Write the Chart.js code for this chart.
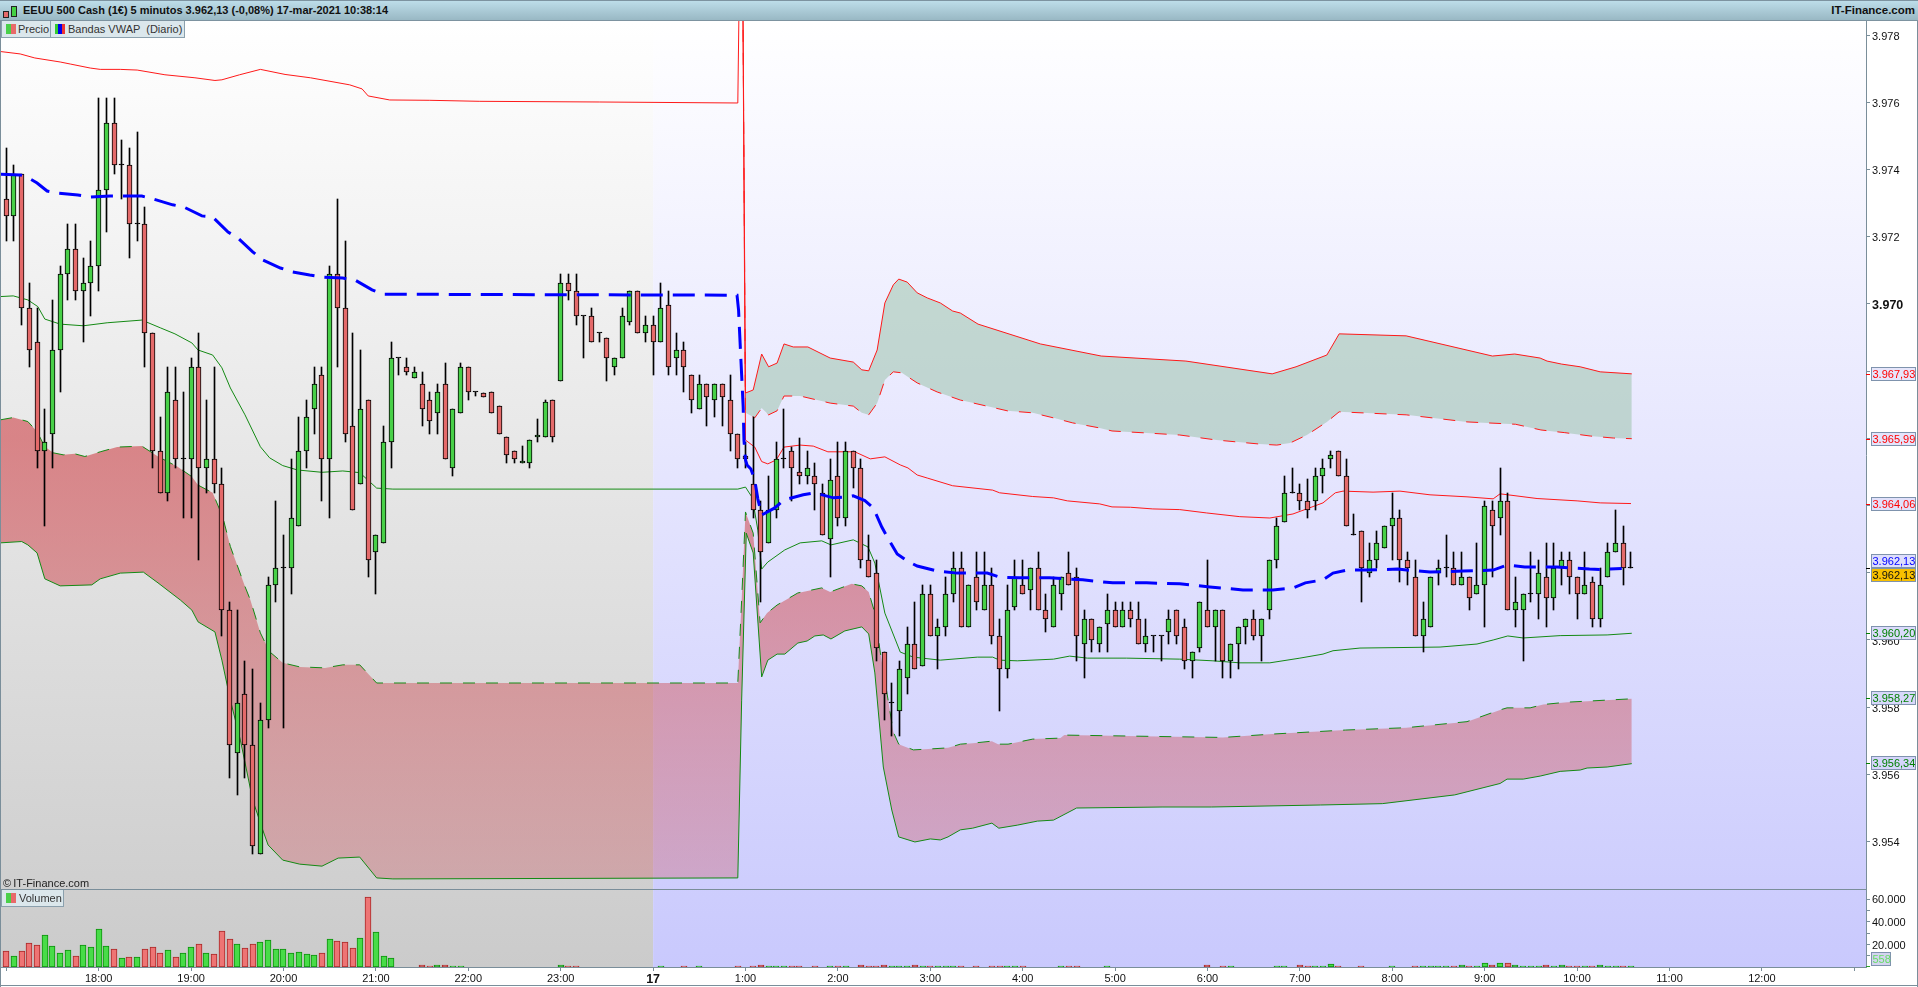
<!DOCTYPE html>
<html lang="es">
<head>
<meta charset="utf-8">
<title>EEUU 500 Cash</title>
<script src="https://cdn.jsdelivr.net/npm/chart.js@4/dist/chart.umd.min.js"></script>
<style>
html,body{margin:0;padding:0;background:#fff;width:1918px;height:987px;overflow:hidden;font-family:"Liberation Sans",Arial,sans-serif;}
canvas{position:absolute;left:0;top:0;}
#hdr{position:absolute;left:0;top:0;width:1918px;height:21px;box-sizing:border-box;border-top:1px solid #7d93a0;border-bottom:1px solid #7d93a0;background:linear-gradient(#bddde9,#99b8c4);font-size:11px;font-weight:bold;color:#111;line-height:19px;white-space:pre;}
#hdr .l{position:absolute;left:23px;top:0;}
#hdr .r{position:absolute;right:3px;top:0;font-size:11.5px;}
.ic{position:absolute;box-sizing:border-box;border:1px solid #222;}
.tab{position:absolute;box-sizing:border-box;height:17px;background:#dbe7ec;border:1px solid #8ba0ad;border-top:0;font-size:11px;line-height:16px;color:#333;white-space:pre;}
.sw{position:absolute;top:3px;height:10px;}
.tx{position:absolute;top:0;}
#copy{position:absolute;left:3px;top:876px;font-size:11px;color:#222;line-height:14px;}
</style>
</head>
<body>
<canvas id="c" width="1918" height="987"></canvas>
<div id="hdr"><span class="ic" style="left:3px;top:10px;width:6px;height:7px;background:#e46a6a"></span><span class="ic" style="left:11px;top:5px;width:6px;height:11px;background:#44d044"></span><span class="l">EEUU 500 Cash (1€) 5 minutos 3.962,13 (-0,08%) 17-mar-2021 10:38:14</span><span class="r">IT-Finance.com</span></div>
<div class="tab" style="left:1px;top:21px;width:50px"><span class="sw" style="left:4px;width:10px;background:linear-gradient(90deg,#4ad04a 50%,#e86a6a 50%)"></span><span class="tx" style="left:16px">Precio</span></div>
<div class="tab" style="left:50px;top:21px;width:135px"><span class="sw" style="left:4px;width:10px;background:linear-gradient(90deg,#3c3 33%,#00e 33%,#00e 66%,#e33 66%)"></span><span class="tx" style="left:17px">Bandas VWAP  (Diario)</span></div>
<div id="copy">©&thinsp;IT-Finance.com</div>
<div class="tab" style="left:1px;top:890px;width:63px;height:17px;border-top:0"><span class="sw" style="left:4px;width:10px;background:linear-gradient(90deg,#4ad04a 50%,#e86a6a 50%)"></span><span class="tx" style="left:17px">Volumen</span></div>
<script>
// ---------- candles (5-minute bars, index 0 = 17:00) ----------
const opens=[3973.13,3972.63,3973.88,3969.88,3968.88,3965.63,3966.13,3968.63,3970.88,3971.63,3970.38,3970.63,3971.13,3973.38,3975.38,3974.13,3974.13,3972.38,3972.38,3969.13,3965.63,3964.38,3967.13,3965.38,3965.38,3968.13,3965.13,3965.38,3964.63,3960.88,3956.63,3958.38,3956.88,3953.63,3957.63,3961.63,3962.13,3962.13,3963.38,3965.63,3966.88,3967.88,3965.38,3970.88,3969.88,3966.38,3964.63,3967.13,3962.63,3962.88,3965.88,3968.38,3968.13,3967.81,3967.63,3967.13,3966.76,3967.63,3965.13,3966.76,3968.13,3967.38,3967.35,3967.38,3966.96,3966.05,3965.63,3965.28,3965.28,3966.03,3966.03,3967.13,3967.71,3970.63,3970.38,3969.63,3969.63,3969.13,3969.00,3968.13,3968.38,3969.46,3970.38,3969.13,3969.38,3968.88,3969.98,3968.38,3968.63,3967.88,3966.88,3967.63,3967.13,3967.63,3967.13,3966.13,3965.48,3964.63,3963.88,3962.88,3963.88,3965.38,3965.63,3965.00,3964.88,3964.88,3964.38,3963.00,3964.88,3963.63,3965.63,3965.13,3962.38,3962.00,3959.63,3958.13,3957.88,3958.88,3959.88,3959.23,3961.38,3960.13,3960.38,3961.38,3962.13,3960.38,3961.88,3960.88,3961.63,3960.13,3959.13,3960.98,3961.63,3961.50,3962.13,3960.88,3960.38,3961.38,3962.00,3961.88,3959.88,3960.63,3959.88,3960.48,3960.88,3960.38,3960.88,3960.63,3959.88,3960.13,3960.13,3960.25,3960.88,3960.38,3959.38,3959.75,3960.88,3960.38,3960.88,3959.38,3959.88,3960.38,3960.63,3960.13,3960.88,3962.38,3963.50,3964.38,3964.38,3964.13,3964.13,3964.88,3965.38,3965.63,3964.88,3963.13,3963.25,3962.00,3962.38,3962.75,3963.38,3963.63,3962.38,3961.88,3960.13,3960.38,3962.00,3962.13,3962.13,3961.63,3961.88,3961.38,3961.63,3963.88,3963.63,3964.13,3960.88,3960.88,3961.38,3961.38,3961.88,3961.25,3962.13,3962.38,3961.88,3961.38,3961.73,3960.63,3961.88,3962.63,3962.88,3962.13];
const highs=[3974.63,3974.13,3973.88,3970.63,3969.88,3966.88,3970.13,3971.13,3972.38,3972.38,3971.38,3971.88,3976.13,3976.13,3976.13,3974.88,3974.63,3975.13,3972.88,3969.13,3966.63,3968.13,3968.13,3967.38,3968.38,3969.13,3967.13,3968.13,3965.13,3961.13,3960.88,3959.38,3959.13,3958.13,3961.88,3964.13,3963.13,3965.38,3966.63,3967.13,3968.13,3968.13,3971.13,3973.13,3971.88,3969.13,3968.63,3967.13,3963.13,3966.38,3968.88,3968.38,3968.38,3968.13,3967.98,3967.38,3967.63,3968.23,3966.88,3968.23,3968.13,3967.38,3967.35,3967.38,3966.96,3966.05,3965.63,3965.76,3965.96,3966.58,3967.13,3967.13,3970.88,3970.88,3970.88,3969.63,3969.88,3969.13,3969.00,3968.38,3969.88,3970.38,3970.38,3969.63,3969.63,3970.63,3970.38,3969.13,3968.88,3967.88,3967.88,3967.63,3967.63,3967.63,3967.88,3966.13,3965.88,3966.63,3964.13,3964.88,3965.88,3966.88,3965.73,3966.00,3965.63,3965.26,3964.63,3965.38,3965.88,3965.88,3965.63,3965.38,3963.13,3962.38,3959.63,3958.73,3959.38,3960.38,3961.13,3961.63,3961.63,3960.63,3961.88,3962.63,3962.63,3961.63,3962.63,3962.63,3962.13,3960.63,3961.63,3962.38,3962.38,3962.13,3962.63,3961.38,3961.88,3961.88,3962.63,3962.13,3960.88,3960.63,3960.38,3961.38,3961.13,3961.13,3961.13,3961.13,3960.63,3960.13,3960.13,3960.88,3960.88,3960.63,3959.63,3961.13,3962.38,3960.88,3960.88,3959.88,3960.38,3960.63,3960.88,3960.63,3962.38,3963.63,3964.88,3965.13,3964.63,3964.78,3965.13,3965.38,3965.63,3965.63,3965.38,3963.76,3963.25,3962.88,3963.25,3963.38,3964.38,3963.88,3962.63,3962.38,3961.13,3961.88,3962.38,3963.13,3962.63,3962.63,3961.88,3962.88,3964.13,3964.13,3965.13,3964.38,3961.88,3961.38,3962.63,3962.38,3962.88,3962.88,3962.63,3962.63,3961.88,3962.63,3961.88,3962.13,3962.88,3963.88,3963.38,3962.63];
const lows=[3971.88,3971.88,3969.38,3968.13,3965.13,3963.38,3965.13,3967.38,3970.13,3970.13,3968.88,3969.63,3970.38,3972.13,3973.88,3973.13,3971.38,3971.88,3968.13,3965.13,3964.38,3964.13,3965.13,3963.63,3963.63,3962.38,3964.38,3964.38,3960.13,3955.88,3955.38,3955.88,3953.63,3953.63,3957.38,3961.13,3957.38,3961.38,3963.38,3965.13,3966.13,3964.13,3963.63,3968.13,3965.88,3963.88,3964.63,3961.88,3961.38,3962.88,3965.13,3967.88,3967.88,3967.81,3966.38,3966.13,3966.13,3965.38,3964.88,3966.76,3967.13,3967.26,3967.23,3966.76,3966.13,3965.26,3965.26,3965.28,3965.13,3965.88,3966.03,3965.88,3967.71,3970.13,3969.38,3968.38,3968.88,3968.88,3967.71,3967.88,3968.38,3969.38,3969.13,3968.88,3967.88,3968.88,3967.88,3967.88,3967.38,3966.76,3966.88,3966.38,3966.63,3966.38,3965.63,3965.13,3965.13,3963.63,3961.13,3962.88,3963.63,3965.13,3964.13,3964.63,3964.63,3963.88,3963.13,3961.88,3963.38,3963.38,3964.51,3962.13,3961.88,3959.38,3957.63,3957.13,3957.13,3958.38,3959.13,3959.23,3960.13,3959.13,3960.13,3961.13,3960.38,3960.38,3960.88,3960.88,3959.88,3957.88,3958.88,3960.88,3961.38,3960.88,3960.88,3960.23,3960.38,3960.88,3961.63,3959.38,3958.88,3959.63,3959.63,3959.63,3960.38,3960.38,3960.38,3959.88,3959.63,3959.63,3959.38,3959.88,3959.88,3959.13,3958.88,3959.63,3960.38,3959.38,3958.88,3958.88,3959.13,3959.88,3960.00,3959.38,3960.63,3962.13,3963.50,3964.38,3963.88,3963.63,3963.88,3964.38,3965.13,3964.88,3963.38,3963.13,3961.13,3961.88,3962.13,3962.75,3962.38,3961.73,3961.63,3960.13,3959.63,3960.38,3961.63,3961.88,3961.63,3961.63,3960.88,3961.38,3960.38,3961.88,3963.13,3960.88,3960.38,3959.38,3961.13,3960.63,3960.38,3960.88,3961.63,3961.38,3960.63,3961.38,3960.38,3960.38,3961.88,3962.63,3961.63,3962.13];
const closes=[3972.63,3973.88,3969.88,3968.63,3965.63,3965.88,3968.63,3970.88,3971.63,3970.38,3970.63,3971.13,3973.38,3975.38,3974.13,3974.13,3972.38,3972.38,3969.13,3965.63,3964.38,3967.38,3965.38,3965.38,3968.13,3965.13,3965.38,3964.63,3960.88,3956.88,3958.13,3956.88,3953.88,3957.63,3961.63,3962.13,3962.13,3963.63,3965.63,3966.63,3967.63,3965.38,3970.88,3969.88,3966.13,3963.88,3966.88,3962.38,3963.13,3965.88,3968.38,3968.38,3967.98,3967.98,3966.88,3966.51,3967.38,3965.38,3966.88,3968.13,3967.38,3967.38,3967.23,3966.76,3966.13,3965.51,3965.38,3965.33,3965.96,3966.11,3967.08,3966.03,3970.63,3970.38,3969.63,3969.63,3968.88,3969.13,3968.38,3968.38,3969.63,3970.38,3969.13,3969.38,3968.88,3969.88,3968.13,3968.63,3968.13,3967.13,3967.63,3967.23,3967.63,3967.23,3966.13,3965.38,3965.38,3963.88,3962.63,3963.88,3965.38,3965.38,3965.13,3964.88,3965.13,3964.63,3963.13,3964.76,3963.63,3965.63,3965.13,3962.38,3961.88,3959.75,3958.38,3958.13,3959.13,3959.88,3959.13,3961.38,3960.13,3960.38,3961.38,3962.13,3960.38,3961.63,3961.13,3961.63,3960.13,3959.13,3960.88,3961.88,3961.38,3962.13,3960.88,3960.63,3961.63,3961.88,3961.63,3960.13,3960.63,3960.00,3960.38,3960.88,3960.38,3960.88,3960.63,3959.88,3960.13,3960.13,3960.13,3960.63,3960.13,3959.38,3959.63,3961.13,3960.38,3960.88,3959.38,3959.88,3960.38,3960.63,3960.13,3960.63,3962.38,3963.38,3964.38,3964.38,3964.13,3963.88,3964.88,3965.13,3965.51,3964.88,3963.38,3963.13,3962.13,3962.38,3962.88,3963.38,3963.63,3962.38,3962.13,3960.13,3960.63,3961.88,3962.13,3962.13,3961.63,3961.88,3961.25,3961.63,3964.00,3963.38,3964.13,3960.88,3961.13,3961.38,3961.38,3962.00,3961.25,3962.13,3962.38,3961.88,3961.38,3961.63,3960.63,3961.63,3962.63,3962.88,3962.13,3962.13];
const volumes=[14500,9800,14500,21300,19500,28400,18600,12400,15100,9800,19500,17800,33800,18600,16000,8000,8900,8900,16000,17800,12400,15100,8900,12400,17800,20400,12400,11600,32000,24900,20400,16900,20400,22200,24000,16000,16000,12400,13300,11600,10700,12400,24900,23100,22200,16900,25800,62200,31100,9800,8000,0,0,0,1800,900,1800,1800,900,900,0,0,0,0,0,0,0,0,0,0,0,0,1800,800,800,0,0,0,0,0,0,0,0,0,0,800,0,0,800,0,800,0,0,0,0,800,0,800,1800,800,800,800,800,800,0,800,0,800,800,800,0,1800,800,800,1800,800,800,800,1800,800,800,800,800,800,800,0,800,0,800,800,800,800,800,0,0,0,0,800,800,800,0,0,0,800,0,0,0,0,0,0,0,0,0,0,0,0,2000,0,800,800,0,0,0,0,0,800,800,0,2000,800,800,800,3000,800,0,0,800,0,0,0,800,0,0,800,800,800,800,800,800,2000,800,800,3500,2000,3500,3500,2000,800,800,800,2000,800,2000,800,800,800,800,2000,800,800,800,558];

// ---------- VWAP and bands: vertices as [bar index], [price] ----------
const vwapX=[-0.8,1.8,3.1,4,5.3,6.7,9.3,10.9,13.5,17.6,19,21.6,23,25.4,26.8,28.8,30.1,32,33.3,35.6,37.2,39.4,41.1,43.7,45.3,47.5,49,94.9,95.1,95.3,95.5,95.7,95.8,96,96.2,96.7,97.2,97.6,98.1,99.8,101,103.5,105,107.4,109.2,110,111.5,112.6,113.7,114.4,115.7,117,118.3,120.9,123.5,127.4,129,131.6,135.5,139.8,143.7,148.1,152.4,156.3,160.6,164.5,167.1,168.7,171,172.3,174.1,176.7,180.7,184.9,189.2,193.1,194.9,197.2,201.4,205.6,207,209.8];
const vwapY=[3973.86,3973.84,3973.72,3973.60,3973.36,3973.30,3973.24,3973.18,3973.21,3973.21,3973.13,3972.95,3972.89,3972.62,3972.59,3972.14,3971.96,3971.55,3971.31,3971.07,3970.95,3970.86,3970.80,3970.77,3970.71,3970.42,3970.29,3970.26,3969.82,3968.84,3967.89,3966.93,3965.95,3965.36,3965.21,3965.09,3964.76,3964.20,3963.72,3963.93,3964.17,3964.32,3964.38,3964.23,3964.26,3964.29,3964.15,3963.93,3963.36,3963.07,3962.56,3962.35,3962.20,3962.05,3961.99,3961.99,3961.87,3961.85,3961.85,3961.79,3961.70,3961.70,3961.67,3961.58,3961.49,3961.49,3961.55,3961.70,3961.79,3961.99,3962.08,3962.08,3962.11,3962.02,3962.05,3962.08,3962.23,3962.17,3962.17,3962.11,3962.10,3962.13];

const u1X=[-0.7,1.8,3.7,7,8.3,10.9,12.2,14.8,17,20.6,24.5,27.1,28,30.3,33,36.2,39.5,44.6,46.2,47,49.8,55,61.5,77,95,95.5,96,97.2,98.1,98.9,100,101,103.1,104.8,106.7,108,110.2,112.2,114.1,116.1,117.1,118.3,119.6,122.9,128.1,129,133.3,136,137.8,142,143.6,146,148.9,152.4,155.9,160.2,164.1,167.1,171,172.6,173.6,177.5,181,184.9,189.7,193.1,194,198.8,204,207,211];
const u1Y=[3977.51,3977.44,3977.32,3977.20,3977.14,3977.02,3976.98,3976.98,3976.96,3976.82,3976.73,3976.65,3976.67,3976.82,3976.98,3976.83,3976.73,3976.52,3976.40,3976.19,3976.07,3976.06,3976.03,3976.01,3975.98,3985,3965.95,3965.74,3965.31,3965.24,3965.36,3965.74,3965.80,3965.77,3965.60,3965.60,3965.60,3965.39,3965.45,3965.21,3965.12,3964.91,3964.82,3964.59,3964.46,3964.38,3964.27,3964.23,3964.14,3964.05,3963.96,3963.95,3963.90,3963.88,3963.78,3963.67,3963.63,3963.75,3964.08,3964.38,3964.43,3964.40,3964.43,3964.32,3964.26,3964.20,3964.35,3964.21,3964.14,3964.08,3964.06];

const u2X=[95.5,96,97.2,98.1,99,100.1,101,103.1,107,110,111.1,112,113.1,114.1,115.2,116.3,118.3,120.9,123.9,130,133.3,136,138.5,142,143.6,148.1,152.4,157.2,162.8,165,166.7,168.9,171.5,173.1,181.8,189.7,196,199.3,202.4,205.7,208.7,211.1];
const u2Y=[3985,3966.76,3966.61,3966.90,3966.70,3966.82,3967.26,3967.26,3967.05,3966.96,3966.76,3966.70,3967.05,3967.74,3967.98,3967.95,3967.65,3967.38,3967.14,3966.82,3966.76,3966.61,3966.46,3966.31,3966.22,3966.16,3966.10,3965.95,3965.83,3965.80,3965.86,3966.10,3966.49,3966.79,3966.70,3966.49,3966.42,3966.25,3966.17,3966.07,3966.01,3965.99];

const u3X=[95.5,96,97,98.1,99,100.1,101,102.2,104.1,107,110,111.1,112,113.1,114.1,115.2,115.9,117,118.3,119.6,121.3,122.9,123.9,126.2,134.3,142.2,153.2,164.4,167.5,171.5,173.1,181.8,193,195.9,199.2,200.1,202,204.4,207,211.1];
const u3Y=[3985,3967.35,3967.44,3968.51,3968.13,3968.24,3968.81,3968.72,3968.72,3968.39,3968.27,3968.04,3968.01,3968.63,3970.03,3970.57,3970.74,3970.65,3970.33,3970.18,3970.03,3969.79,3969.73,3969.40,3968.81,3968.45,3968.30,3967.92,3968.13,3968.48,3969.11,3969.05,3968.45,3968.51,3968.39,3968.30,3968.21,3968.13,3967.98,3967.92];

const l1X=[-0.7,0.9,2.8,4.1,5,7,10,13.1,17.6,20,21.9,24.1,24.9,26.8,28,29.1,31,33,34.2,35.9,37.8,41,43.7,45.9,48.1,50.2,95,96,96.9,97.6,98.1,98.9,101.1,103.1,105.9,107.1,110,111.9,112.8,114.1,116.1,117.8,121.3,126.1,128.1,129,131.3,136,138.1,140.4,145.5,152.4,156.7,160.2,164.1,168,171,172.3,175.8,186.2,191,193.1,195,197,201.8,207.9,211.1];
const l1Y=[3970.22,3970.24,3970.12,3969.92,3969.55,3969.40,3969.35,3969.44,3969.52,3969.29,3969.11,3968.84,3968.63,3968.48,3968.10,3967.50,3966.70,3965.75,3965.42,3965.19,3965.06,3964.99,3965.03,3964.98,3964.52,3964.49,3964.49,3964.55,3964.23,3963.27,3962.11,3962.32,3962.68,3962.89,3962.95,3962.83,3962.98,3962.77,3962.29,3960.80,3959.64,3959.49,3959.40,3959.49,3959.49,3959.40,3959.38,3959.43,3959.52,3959.46,3959.46,3959.43,3959.38,3959.32,3959.32,3959.46,3959.58,3959.68,3959.76,3959.79,3959.88,3960.00,3960.12,3960.06,3960.13,3960.15,3960.20];

const l2X=[-0.8,0.9,2.8,4,5,6.1,7.4,8.9,10.2,12.2,14.4,17.6,19.7,22.2,24.1,24.9,26.8,28.1,29.1,31,31.7,33,34.2,35.9,38.1,41.4,43.7,45.9,48.1,49.8,95,95.5,96,97,97.9,98.8,100.1,102.8,105.9,107,109.8,111.1,112,112.8,113.5,115.2,115.9,117.8,120.2,122.3,123.9,125.5,128,128.8,130.1,133.3,136.9,137.4,158,164.4,173.9,181.8,189.7,194,194.9,197.9,199.6,202.7,205.3,211.1];
const l2Y=[3966.55,3966.62,3966.50,3966.20,3965.75,3965.57,3965.51,3965.54,3965.46,3965.60,3965.74,3965.77,3965.46,3965.16,3964.86,3964.61,3964.38,3963.67,3962.78,3961.59,3961.19,3960.21,3959.65,3959.32,3959.20,3959.17,3959.26,3959.26,3958.72,3958.72,3958.72,3961.19,3963.81,3963.18,3960.51,3960.80,3961.04,3961.40,3961.55,3961.43,3961.67,3961.61,3961.43,3960.80,3959.64,3957.26,3956.90,3956.73,3956.76,3956.79,3956.90,3956.93,3956.99,3956.90,3956.90,3957.05,3957.08,3957.17,3957.10,3957.20,3957.32,3957.39,3957.57,3957.92,3957.98,3957.98,3958.08,3958.15,3958.18,3958.25];

const l3X=[-0.8,2,2.8,4,5,7,11.1,12.2,14.8,17.8,19.7,22.6,24.1,24.9,27.1,28,29.1,30.4,32,33.3,34,35.9,38.1,41,43.1,45.9,48.1,50.2,95,95.5,96.1,97,98.1,98.9,100.1,101.1,102.8,104,105,106.1,107.1,108.9,111.1,112,112.8,113.9,115,115.9,118,120,121.3,122.3,123.9,125.5,128,128.9,131.3,133.9,136,139,150.1,156.5,170.7,178.7,188.1,194,194.9,197,199.2,201.8,204.4,205.3,207.9,211.1];
const l3Y=[3962.89,3962.93,3962.83,3962.59,3961.82,3961.61,3961.64,3961.82,3961.99,3962.02,3961.70,3961.19,3960.89,3960.54,3960.24,3959.40,3958.21,3957.02,3955.24,3954.35,3953.90,3953.45,3953.33,3953.27,3953.51,3953.54,3952.92,3952.89,3952.92,3958.21,3963.18,3962.59,3958.90,3959.40,3959.58,3959.58,3959.91,3959.97,3960.12,3960.15,3960.03,3960.27,3960.39,3960.18,3959.02,3956.22,3954.94,3954.14,3953.99,3954.08,3954.05,3954.14,3954.35,3954.40,3954.55,3954.40,3954.49,3954.61,3954.64,3955.00,3955.03,3955.03,3955.09,3955.13,3955.39,3955.73,3955.86,3955.86,3955.95,3956.09,3956.13,3956.19,3956.22,3956.32];

// ---------- axes ----------
const priceTicks=[3954,3956,3958,3960,3962,3964,3966,3968,3970,3972,3974,3976,3978];
const priceTickLabels=['3.954','3.956','3.958','3.960','','','','','3.970','3.972','3.974','3.976','3.978'];
const volumeTicks=[10000,20000,30000,40000,50000,60000];
const volumeTickLabels=['','20.000','','40.000','','60.000'];
const hourTicks=[0,12,24,36,48,60,72,84,96,108,120,132,144,156,168,180,192,204,216,228,240];
const hourLabels=['','18:00','19:00','20:00','21:00','22:00','23:00','17','1:00','2:00','3:00','4:00','5:00','6:00','7:00','8:00','9:00','10:00','11:00','12:00',''];
const sessionBreakBar=84;
const priceTags=[[3967.93,'3.967,93','#ff0000','#ff0000',0,'#e6e6fb'],[3965.99,'3.965,99','#ff0000','#ff0000',0,'#e4e4fb'],[3964.06,'3.964,06','#ff0000','#ff0000',0,'#e1e1fb'],[3962.13,'3.962,13','#0000ff','#000000',-7,'#dedefb'],[3962.13,'3.962,13','#111111','#000000',7,'#f8c000'],[3960.20,'3.960,20','#008000','#008000',0,'#dbdbfb'],[3958.27,'3.958,27','#008000','#008000',0,'#d8d8fb'],[3956.34,'3.956,34','#008000','#008000',0,'#d5d5fb']];
const volumeTag=[558,'558'];

const GREEN='#48d048',RED='#e46a6a',AXIS='#7a8e9a';
const pts=(xs,ys)=>xs.map((x,i)=>({x,y:ys[i]}));
const idx=opens.map((_,i)=>i);
const up=i=>closes[i]>=opens[i];

const lineBase={type:'line',yAxisID:'y',pointRadius:0,borderWidth:1,tension:0,fill:false};
const redLine='#ff1a1a',greenLine='#148a14';
function pinkFill(ctx){
  const c=ctx.chart; if(!c.chartArea) return 'rgba(208,80,80,.5)';
  const s=c.scales.y, g=c.ctx.createLinearGradient(0,s.getPixelForValue(3966),0,s.getPixelForValue(3953));
  g.addColorStop(0,'rgba(208,80,85,.66)'); g.addColorStop(1,'rgba(203,80,90,.32)');
  return g;
}
const datasets=[
  {...lineBase,label:'Banda sup 2',data:pts(u2X,u2Y),borderColor:redLine,borderDash:[12,11],order:9},            //0
  {...lineBase,label:'Banda sup 3',data:pts(u3X,u3Y),borderColor:redLine,fill:0,backgroundColor:'rgba(150,192,164,.5)',order:10}, //1
  {...lineBase,label:'Banda sup 1',data:pts(u1X,u1Y),borderColor:redLine,order:9},                               //2
  {...lineBase,label:'Banda inf 1',data:pts(l1X,l1Y),borderColor:greenLine,order:9},                             //3
  {...lineBase,label:'Banda inf 2',data:pts(l2X,l2Y),borderColor:greenLine,borderDash:[12,11],order:9},           //4
  {...lineBase,label:'Banda inf 3',data:pts(l3X,l3Y),borderColor:greenLine,fill:4,backgroundColor:pinkFill,order:10}, //5
  {type:'bar',label:'Mecha',yAxisID:'y',data:idx.map(i=>({x:i,y:[lows[i],highs[i]]})),backgroundColor:'#000',borderWidth:0,barThickness:1,grouped:false,order:5},
  {type:'bar',label:'Precio',yAxisID:'y',data:idx.map(i=>({x:i,y:[opens[i],closes[i]]})),
    backgroundColor:idx.map(i=>opens[i]===closes[i]?'#000':(up(i)?GREEN:RED)),borderColor:'#000',borderWidth:1,borderSkipped:false,barThickness:5,minBarLength:1,grouped:false,order:4},
  {...lineBase,label:'VWAP',data:pts(vwapX,vwapY),borderColor:'#0000ff',borderWidth:3,borderDash:[22,10],order:1},
  {type:'bar',label:'Volumen',yAxisID:'yv',data:idx.map(i=>({x:i,y:volumes[i]})),
    backgroundColor:idx.map(i=>up(i)?'#48dc48':'#ee7474'),borderColor:idx.map(i=>up(i)?'#0d8f0d':'#a82828'),borderWidth:1,borderSkipped:false,barThickness:6,grouped:false,order:3}
];

const snap={id:'snap',afterDatasetsUpdate(chart){
  chart.data.datasets.forEach((d,di)=>{
    if(d.type!=='bar')return;
    chart.getDatasetMeta(di).data.forEach(el=>{
      const even=d.barThickness%2===0;
      el.x=even?Math.round(el.x):Math.floor(el.x)+0.5;
      const h=Math.round(el.y),b=Math.round(el.base);
      el.y=h; el.base=(h===b&&d.label!=='Volumen')?h+1:b;
    });
  });
}};
const panes={id:'panes',beforeDraw(chart){
  const {ctx,chartArea:a,scales:{x}}=chart, bx=x.getPixelForValue(sessionBreakBar);
  ctx.save();
  ctx.fillStyle='#fff';ctx.fillRect(0,0,chart.width,chart.height);
  let g=ctx.createLinearGradient(0,a.top,0,a.bottom);g.addColorStop(0,'#ffffff');g.addColorStop(1,'#cbcbcb');
  ctx.fillStyle=g;ctx.fillRect(a.left,a.top,bx-a.left,a.bottom-a.top);
  g=ctx.createLinearGradient(0,a.top,0,a.bottom);g.addColorStop(0,'#ffffff');g.addColorStop(1,'#c9c9fd');
  ctx.fillStyle=g;ctx.fillRect(bx,a.top,a.right-bx,a.bottom-a.top);
  ctx.restore();
},afterDraw(chart){
  const {ctx,chartArea:a,scales:{y,yv}}=chart;
  ctx.save();
  ctx.fillStyle=AXIS;
  const sep=Math.round(y.bottom);
  ctx.fillRect(0,sep,a.right,1);
  ctx.fillRect(0,Math.round(a.bottom),a.right+1,1);
  ctx.fillRect(0,0,1,chart.height);
  ctx.fillRect(chart.width-1,0,1,chart.height);
  ctx.fillRect(0,chart.height-2,chart.width,1);
  ctx.font='11px "Liberation Sans",Arial,sans-serif';ctx.textBaseline='middle';ctx.textAlign='left';
  const bl=a.right+5, bw=45, bh=14;
  priceTags.forEach(([v,t,col,tick,off,bg])=>{
    const py=Math.round(y.getPixelForValue(v));
    ctx.fillStyle=tick;ctx.fillRect(a.right,py,4,1);
    const cy=py+off;
    ctx.fillStyle=bg;ctx.fillRect(bl,cy-bh/2,bw,bh);
    ctx.strokeStyle='#7f93ad';ctx.lineWidth=1;ctx.strokeRect(bl+.5,cy-bh/2+.5,bw-1,bh-1);
    ctx.fillStyle=col;ctx.fillText(t,bl+1.5,cy+.5);
  });
  const vy=Math.round(yv.getPixelForValue(volumeTag[0]));
  ctx.fillStyle='#2ca02c';ctx.fillRect(a.right,vy,4,1);
  ctx.fillStyle='#d4d4f0';ctx.fillRect(bl,vy-14,20,14);
  ctx.strokeStyle='#7f93ad';ctx.strokeRect(bl+.5,vy-13.5,19,13);
  ctx.fillStyle='#66dd66';ctx.fillText(volumeTag[1],bl+1.5,vy-6.5);
  ctx.restore();
}};

Chart.defaults.font.family='"Liberation Sans",Arial,sans-serif';
Chart.defaults.font.size=11;
Chart.defaults.color='#111';

new Chart(document.getElementById('c'),{
  type:'bar',
  data:{datasets},
  plugins:[snap,panes],
  options:{
    responsive:false,animation:false,devicePixelRatio:1,
    parsing:{xAxisKey:'x',yAxisKey:'y'},
    layout:{padding:{left:1,top:21,right:0,bottom:0}},
    plugins:{legend:{display:false},tooltip:{enabled:false},title:{display:false}},
    scales:{
      x:{type:'linear',position:'bottom',offset:false,min:-0.688,max:241.52,
        grid:{offset:false,drawOnChartArea:false,tickLength:4,tickColor:AXIS},border:{display:false},
        afterBuildTicks(s){s.ticks=hourTicks.map(v=>({value:v}));},
        afterFit(s){s.height=20;},
        ticks:{autoSkip:false,maxRotation:0,minRotation:0,padding:1,
          callback:(v,i)=>hourLabels[i],
          font:c=>c.tick&&hourLabels[hourTicks.indexOf(c.tick.value)]==='17'?{weight:'bold',size:12.5}:{size:11}}},
      y:{type:'linear',position:'right',stack:'p',stackWeight:868,min:3952.59,max:3978.42,
        grid:{drawOnChartArea:false,tickLength:4,tickColor:AXIS},border:{display:true,color:AXIS},
        afterBuildTicks(s){s.ticks=priceTicks.map(v=>({value:v}));},
        afterFit(s){s.width=52;},
        ticks:{autoSkip:false,padding:2,includeBounds:false,labelOffset:1.5,
          callback:(v,i)=>priceTickLabels[i],
          font:c=>c.tick&&c.tick.value===3970?{weight:'bold',size:12.5}:{size:11}}},
      yv:{type:'linear',position:'right',stack:'p',stackWeight:78,min:0,max:69300,
        grid:{drawOnChartArea:false,tickLength:4,tickColor:AXIS},border:{display:true,color:AXIS},
        afterBuildTicks(s){s.ticks=volumeTicks.map(v=>({value:v}));},
        afterFit(s){s.width=52;},
        ticks:{autoSkip:false,padding:2,includeBounds:false,labelOffset:1,callback:(v,i)=>volumeTickLabels[i]}}
    }
  }
});
</script>
</body>
</html>
